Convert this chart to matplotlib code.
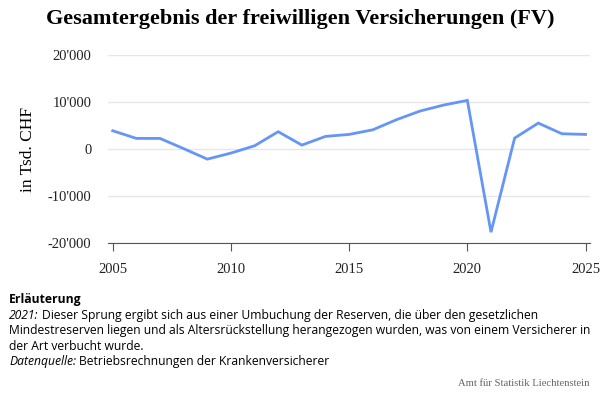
import matplotlib.pyplot as plt
from matplotlib.ticker import FuncFormatter

# Gesamtergebnis FV in Tsd. CHF
jahre = [2005, 2006, 2007, 2008, 2009, 2010, 2011, 2012, 2013, 2014, 2015,
         2016, 2017, 2018, 2019, 2020, 2021, 2022, 2023, 2024, 2025]
ergebnis = [3900, 2270, 2270, 100, -2130, -850, 700, 3700, 850, 2700, 3120,
            4100, 6240, 8090, 9360, 10350, -17660, 2340, 5530, 3260, 3120]

y_ticks = [-20000, -10000, 0, 10000, 20000]
x_ticks = [2005, 2010, 2015, 2020, 2025]

serif = ['Liberation Serif', 'DejaVu Serif']
sans = ['Open Sans', 'DejaVu Sans']

fig = plt.figure(figsize=(6, 4), dpi=100)
ax = fig.add_axes([0.18, 0.392, 0.803, 0.4705])

ax.plot(jahre, ergebnis, color='#6495f7', linewidth=2, solid_joinstyle='miter')

ax.set_xlim(2004.8, 2025.18)
ax.set_ylim(-20000, 20000)
ax.set_yticks(y_ticks)
ax.set_xticks(x_ticks)
ax.yaxis.set_major_formatter(FuncFormatter(lambda v, p: f"{int(v):,}".replace(',', "'")))
ax.grid(axis='y', color='#e6e6e6', linewidth=1)
ax.set_axisbelow(True)

for s in ['top', 'right', 'left']:
    ax.spines[s].set_visible(False)
ax.spines['bottom'].set_color('#555555')
ax.tick_params(axis='y', length=0, pad=12)
ax.tick_params(axis='x', length=6, color='#555555', pad=8)
for lab in ax.get_xticklabels() + ax.get_yticklabels():
    lab.set_fontfamily(serif)
    lab.set_fontsize(10.5)
    lab.set_color('#222222')

ax.set_ylabel('in Tsd. CHF', fontfamily=serif, fontsize=12.5, labelpad=8)

fig.text(0.5, 0.952, 'Gesamtergebnis der freiwilligen Versicherungen (FV)',
         ha='center', va='center', fontfamily=serif, fontsize=16, fontweight='bold')

# Erläuterungen unten
fs = 8.7
x0 = 0.015
fig.canvas.draw()
renderer = fig.canvas.get_renderer()


def prefixed(y, prefix, rest):
    t = fig.text(x0, y, prefix, fontfamily=sans, fontsize=fs, style='italic', va='center')
    bb = t.get_window_extent(renderer).transformed(fig.transFigure.inverted())
    fig.text(bb.x1 + 0.005, y, rest, fontfamily=sans, fontsize=fs, va='center')


fig.text(x0, 0.25, 'Erläuterung', fontfamily=sans, fontsize=fs, fontweight='bold', va='center')
prefixed(0.212, '2021:', 'Dieser Sprung ergibt sich aus einer Umbuchung der Reserven, die über den gesetzlichen')
fig.text(x0, 0.173, 'Mindestreserven liegen und als Altersrückstellung herangezogen wurden, was von einem Versicherer in',
         fontfamily=sans, fontsize=fs, va='center')
fig.text(x0, 0.134, 'der Art verbucht wurde.', fontfamily=sans, fontsize=fs, va='center')
prefixed(0.095, 'Datenquelle:', 'Betriebsrechnungen der Krankenversicherer')

fig.text(0.983, 0.04, 'Amt für Statistik Liechtenstein', ha='right', va='center',
         fontfamily=serif, fontsize=7.7, color='#666666')

fig.savefig('out.png', dpi=100)
